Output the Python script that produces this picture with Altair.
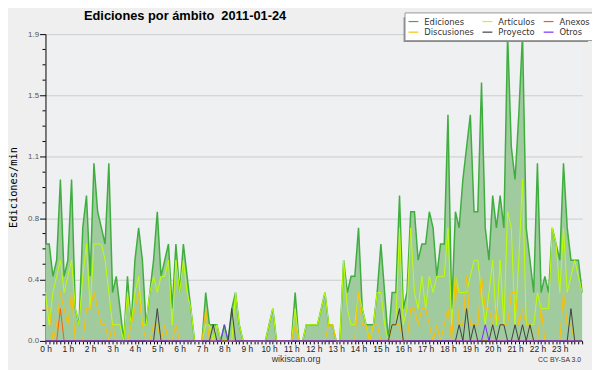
import altair as alt
import pandas as pd

# ---------------- data (one row per hour, 10-minute steps) ----------------
# legend order gives rows: Ediciones/Artículos/Anexos, Discusiones/Proyecto/Otros
SERIES = ["Ediciones", "Discusiones", "Artículos", "Proyecto", "Anexos", "Otros"]
COLORS = ["#3fae3f", "#ffbf00", "#bfff00", "#404040", "#ff5a00", "#7b2cff"]

ediciones = [
    0.6, 0.6, 0.4, 0.5, 1.0, 0.4,
    0.5, 1.0, 0.2, 0.1, 0.7, 0.9,
    0.4, 1.1, 0.8, 0.7, 0.6, 1.1,
    0.3, 0.4, 0.2, 0.0, 0.4, 0.1,
    0.5, 0.7, 0.5, 0.1, 0.3, 0.5,
    0.8, 0.4, 0.5, 0.6, 0.2, 0.6,
    0.3, 0.6, 0.4, 0.2, 0.0, 0.0,
    0.0, 0.3, 0.1, 0.1, 0.1, 0.0,
    0.1, 0.0, 0.2, 0.3, 0.1, 0.0,
    0.0, 0.0, 0.0, 0.0, 0.0, 0.0,
    0.1, 0.2, 0.0, 0.0, 0.0, 0.0,
    0.0, 0.3, 0.0, 0.0, 0.1, 0.1,
    0.1, 0.1, 0.2, 0.3, 0.1, 0.1,
    0.0, 0.0, 0.5, 0.3, 0.4, 0.4,
    0.7, 0.2, 0.1, 0.1, 0.1, 0.3,
    0.6, 0.3, 0.0, 0.3, 0.3, 0.9,
    0.2, 0.3, 0.8, 0.8, 0.5, 0.6,
    0.6, 0.8, 0.7, 0.4, 0.6, 0.6,
    1.4, 0.2, 0.8, 0.7, 1.0, 1.2,
    1.4, 0.8, 0.8, 1.6, 0.7, 0.5,
    0.9, 0.7, 0.9, 0.7, 1.9, 1.2,
    1.0, 1.4, 1.9, 0.7, 0.5, 0.3,
    1.1, 0.3, 0.4, 0.3, 0.7, 0.6,
    0.5, 1.1, 0.7, 0.5, 0.5, 0.5,
    0.3,
]

articulos = [
    0.3, 0.1, 0.3, 0.4, 0.5, 0.3,
    0.4, 0.5, 0.2, 0.1, 0.4, 0.6,
    0.2, 0.6, 0.6, 0.6, 0.5, 0.3,
    0.1, 0.1, 0.1, 0.0, 0.3, 0.1,
    0.3, 0.4, 0.1, 0.1, 0.3, 0.4,
    0.3, 0.4, 0.4, 0.5, 0.1, 0.5,
    0.3, 0.5, 0.3, 0.2, 0.0, 0.0,
    0.0, 0.1, 0.1, 0.0, 0.1, 0.0,
    0.0, 0.0, 0.0, 0.3, 0.1, 0.0,
    0.0, 0.0, 0.0, 0.0, 0.0, 0.0,
    0.1, 0.2, 0.0, 0.0, 0.0, 0.0,
    0.0, 0.2, 0.0, 0.0, 0.1, 0.1,
    0.1, 0.1, 0.2, 0.3, 0.1, 0.1,
    0.0, 0.0, 0.5, 0.2, 0.1, 0.1,
    0.3, 0.2, 0.1, 0.0, 0.1, 0.3,
    0.3, 0.1, 0.0, 0.1, 0.1, 0.7,
    0.1, 0.2, 0.7, 0.3, 0.2, 0.4,
    0.2, 0.4, 0.3, 0.4, 0.4, 0.4,
    0.7, 0.1, 0.4, 0.3, 0.3, 0.3,
    0.4, 0.5, 0.5, 0.3, 0.1, 0.3,
    0.5, 0.1, 0.5, 0.1, 0.8, 0.7,
    0.1, 0.5, 1.0, 0.1, 0.1, 0.1,
    0.3, 0.2, 0.2, 0.2, 0.7, 0.6,
    0.3, 0.7, 0.3, 0.4, 0.5, 0.4,
    0.3,
]

discusiones = [
    0.2, 0.2, 0.0, 0.1, 0.3, 0.2,
    0.1, 0.3, 0.0, 0.0, 0.0, 0.2,
    0.2, 0.3, 0.2, 0.1, 0.1, 0.0,
    0.1, 0.0, 0.0, 0.0, 0.0, 0.1,
    0.2, 0.3, 0.1, 0.0, 0.0, 0.1,
    0.1, 0.0, 0.1, 0.0, 0.0, 0.1,
    0.0, 0.0, 0.0, 0.0, 0.0, 0.0,
    0.0, 0.2, 0.0, 0.0, 0.0, 0.0,
    0.0, 0.0, 0.0, 0.0, 0.0, 0.0,
    0.0, 0.0, 0.0, 0.0, 0.0, 0.0,
    0.0, 0.0, 0.0, 0.0, 0.0, 0.0,
    0.0, 0.1, 0.0, 0.0, 0.0, 0.0,
    0.0, 0.0, 0.0, 0.0, 0.1, 0.1,
    0.0, 0.0, 0.0, 0.0, 0.0, 0.0,
    0.3, 0.1, 0.1, 0.0, 0.1, 0.1,
    0.0, 0.0, 0.0, 0.1, 0.1, 0.1,
    0.0, 0.0, 0.2, 0.2, 0.1, 0.2,
    0.2, 0.1, 0.0, 0.1, 0.0, 0.1,
    0.2, 0.0, 0.4, 0.1, 0.1, 0.4,
    0.1, 0.1, 0.1, 0.4, 0.2, 0.2,
    0.1, 0.2, 0.1, 0.1, 0.1, 0.3,
    0.3, 0.1, 0.2, 0.1, 0.1, 0.0,
    0.0, 0.2, 0.0, 0.0, 0.0, 0.0,
    0.0, 0.3, 0.1, 0.1, 0.0, 0.0,
    0.0,
]

anexos = [
    0.0, 0.0, 0.0, 0.0, 0.2, 0.0,
    0.0, 0.0, 0.0, 0.0, 0.0, 0.0,
    0.0, 0.0, 0.0, 0.0, 0.0, 0.0,
    0.0, 0.0, 0.0, 0.0, 0.0, 0.0,
    0.0, 0.0, 0.0, 0.0, 0.0, 0.0,
    0.0, 0.0, 0.0, 0.0, 0.0, 0.0,
    0.0, 0.0, 0.0, 0.0, 0.0, 0.0,
    0.0, 0.0, 0.0, 0.0, 0.0, 0.0,
    0.0, 0.0, 0.0, 0.0, 0.0, 0.0,
    0.0, 0.0, 0.0, 0.0, 0.0, 0.0,
    0.0, 0.0, 0.0, 0.0, 0.0, 0.0,
    0.0, 0.0, 0.0, 0.0, 0.0, 0.0,
    0.0, 0.0, 0.0, 0.0, 0.0, 0.0,
    0.0, 0.0, 0.0, 0.0, 0.0, 0.0,
    0.0, 0.0, 0.0, 0.0, 0.0, 0.0,
    0.0, 0.0, 0.0, 0.0, 0.0, 0.0,
    0.0, 0.0, 0.0, 0.0, 0.0, 0.0,
    0.0, 0.0, 0.0, 0.0, 0.0, 0.0,
    0.0, 0.0, 0.0, 0.0, 0.0, 0.0,
    0.0, 0.0, 0.0, 0.0, 0.0, 0.0,
    0.0, 0.0, 0.0, 0.0, 0.0, 0.0,
    0.0, 0.0, 0.0, 0.0, 0.0, 0.0,
    0.0, 0.0, 0.0, 0.0, 0.0, 0.0,
    0.0, 0.0, 0.0, 0.0, 0.0, 0.0,
    0.0,
]

proyecto = [
    0.0, 0.0, 0.0, 0.0, 0.0, 0.0,
    0.0, 0.0, 0.0, 0.0, 0.0, 0.0,
    0.0, 0.0, 0.0, 0.0, 0.0, 0.0,
    0.0, 0.0, 0.0, 0.0, 0.0, 0.0,
    0.0, 0.0, 0.0, 0.0, 0.0, 0.0,
    0.2, 0.0, 0.0, 0.0, 0.0, 0.0,
    0.0, 0.0, 0.0, 0.0, 0.0, 0.0,
    0.0, 0.0, 0.0, 0.1, 0.0, 0.0,
    0.0, 0.0, 0.2, 0.0, 0.0, 0.0,
    0.0, 0.0, 0.0, 0.0, 0.0, 0.0,
    0.0, 0.0, 0.0, 0.0, 0.0, 0.0,
    0.0, 0.0, 0.0, 0.0, 0.0, 0.0,
    0.0, 0.0, 0.0, 0.0, 0.0, 0.0,
    0.0, 0.0, 0.0, 0.0, 0.0, 0.0,
    0.0, 0.0, 0.0, 0.0, 0.0, 0.0,
    0.0, 0.0, 0.0, 0.1, 0.1, 0.2,
    0.0, 0.0, 0.0, 0.0, 0.0, 0.0,
    0.0, 0.0, 0.0, 0.0, 0.0, 0.0,
    0.0, 0.0, 0.0, 0.1, 0.0, 0.2,
    0.0, 0.1, 0.0, 0.0, 0.0, 0.0,
    0.1, 0.0, 0.1, 0.1, 0.0, 0.0,
    0.1, 0.0, 0.1, 0.0, 0.1, 0.0,
    0.0, 0.0, 0.0, 0.0, 0.0, 0.0,
    0.0, 0.0, 0.0, 0.2, 0.0, 0.0,
    0.0,
]

otros = [
    0.0, 0.0, 0.0, 0.0, 0.0, 0.0,
    0.0, 0.0, 0.0, 0.0, 0.0, 0.0,
    0.0, 0.0, 0.0, 0.0, 0.0, 0.0,
    0.0, 0.0, 0.0, 0.0, 0.0, 0.0,
    0.0, 0.0, 0.0, 0.0, 0.0, 0.0,
    0.0, 0.0, 0.0, 0.0, 0.0, 0.0,
    0.0, 0.0, 0.0, 0.0, 0.0, 0.0,
    0.0, 0.0, 0.0, 0.0, 0.0, 0.0,
    0.1, 0.0, 0.0, 0.0, 0.0, 0.0,
    0.0, 0.0, 0.0, 0.0, 0.0, 0.0,
    0.0, 0.0, 0.0, 0.0, 0.0, 0.0,
    0.0, 0.0, 0.0, 0.0, 0.0, 0.0,
    0.0, 0.0, 0.0, 0.0, 0.0, 0.0,
    0.0, 0.0, 0.0, 0.0, 0.0, 0.0,
    0.0, 0.0, 0.0, 0.0, 0.0, 0.0,
    0.0, 0.0, 0.0, 0.0, 0.0, 0.0,
    0.0, 0.0, 0.0, 0.0, 0.0, 0.0,
    0.0, 0.0, 0.0, 0.0, 0.0, 0.0,
    0.0, 0.0, 0.0, 0.0, 0.0, 0.0,
    0.0, 0.0, 0.0, 0.0, 0.1, 0.0,
    0.0, 0.0, 0.0, 0.0, 0.0, 0.0,
    0.0, 0.0, 0.0, 0.0, 0.0, 0.0,
    0.0, 0.0, 0.0, 0.0, 0.0, 0.0,
    0.0, 0.0, 0.0, 0.0, 0.0, 0.0,
    0.0,
]

y_major = [0.0, 0.38, 0.76, 1.14, 1.52, 1.9]
y_minor = [0.095, 0.19, 0.285, 0.475, 0.57, 0.665, 0.855, 0.95, 1.045,
           1.235, 1.33, 1.425, 1.615, 1.71, 1.805]

TITLE = "Ediciones por ámbito\u00a0 2011-01-24"

# ---------------- table ----------------
steps = len(ediciones)
hours = [i / 6 for i in range(steps)]
rows = []
for name, vals in [("Ediciones", ediciones), ("Artículos", articulos),
                   ("Anexos", anexos), ("Discusiones", discusiones),
                   ("Proyecto", proyecto), ("Otros", otros)]:
    for h, v in zip(hours, vals):
        rows.append({"hora": h, "serie": name, "valor": v})
df = pd.DataFrame(rows)

x = alt.X(
    "hora:Q",
    scale=alt.Scale(domain=[0, 24], nice=False, zero=False),
    axis=alt.Axis(
        values=hours,
        labelExpr="(datum.value % 1 == 0 && datum.value < 24) ? datum.value + ' h' : ''",
        labelOverlap=False, labelFlush=False, title=None, grid=False,
        tickSize=3, tickColor="black", domainColor="black",
        labelFont="Liberation Sans", labelFontSize=8.5, labelColor="#222",
        labelPadding=1,
    ),
)
y = alt.Y(
    "valor:Q",
    scale=alt.Scale(domain=[0, 1.9], nice=False, zero=True),
    axis=alt.Axis(
        values=y_major, format=".1f", title="Ediciones/min",
        titleFont="DejaVu Sans Mono", titleFontSize=10.5, titleFontWeight="normal",
        titleColor="black", titleX=-29, titleY=155, titleAngle=270,
        titleBaseline="alphabetic",
        grid=True, gridColor="#cccccc", gridWidth=1,
        tickSize=6, tickColor="black", domainColor="black",
        labelFont="Liberation Sans", labelFontSize=8, labelColor="#555",
        labelPadding=1,
    ),
)
color = alt.Color(
    "serie:N",
    scale=alt.Scale(domain=SERIES, range=COLORS),
    legend=alt.Legend(
        title=None, orient="none", legendX=364, legendY=-22, columns=3,
        symbolType="stroke", symbolSize=100, symbolStrokeWidth=1.2,
        labelFont="DejaVu Sans", labelFontSize=8.5, labelColor="#333",
        labelOffset=5, fillColor="white", strokeColor="#999",
        padding=3, rowPadding=-2, columnPadding=5,
    ),
)

base = alt.Chart(df)
area = base.transform_filter(alt.datum.serie == "Ediciones").mark_area(
    color="#9fcb9f", opacity=1
).encode(x=x, y=y)
ed_line = base.transform_filter(alt.datum.serie == "Ediciones").mark_line(
    strokeWidth=1.5
).encode(x=x, y=y, color=color)
sub_lines = base.transform_filter(alt.datum.serie != "Ediciones").mark_line(
    strokeWidth=1
).encode(x=x, y=y, color=color)

minor = alt.Chart(pd.DataFrame({"valor": y_minor})).mark_rule(
    color="black", strokeWidth=1
).encode(y=y, x=alt.value(-3), x2=alt.value(0))

shadow = alt.Chart(pd.DataFrame({"k": [0]})).mark_rect(color="#8a8a8a").encode(
    x=alt.value(363), x2=alt.value(550), y=alt.value(-17), y2=alt.value(8)
)

title = alt.Chart(pd.DataFrame({"t": [TITLE]})).mark_text(
    font="Liberation Sans", fontSize=13, fontWeight="bold", color="black",
    align="left", baseline="alphabetic"
).encode(x=alt.value(39), y=alt.value(-14), text="t:N")
site = alt.Chart(pd.DataFrame({"t": ["wikiscan.org"]})).mark_text(
    font="Liberation Sans", fontSize=9, color="#333", align="center", baseline="alphabetic"
).encode(x=alt.value(254), y=alt.value(332), text="t:N")
lic = alt.Chart(pd.DataFrame({"t": ["CC BY-SA 3.0"]})).mark_text(
    font="Liberation Sans", fontSize=7, color="#333", align="right", baseline="alphabetic"
).encode(x=alt.value(543), y=alt.value(332), text="t:N")

chart = alt.layer(area, ed_line, sub_lines, minor, shadow, title, site, lic).properties(
    width=544, height=311,
    autosize=alt.AutoSizeParams(type="none"),
    padding={"left": 38, "top": 24, "right": 10, "bottom": 27},
    background="#efefef",
).configure_view(fill="#eff0f2", strokeWidth=0)

chart.save("out.html", embed_options={"renderer": "svg", "actions": False})
